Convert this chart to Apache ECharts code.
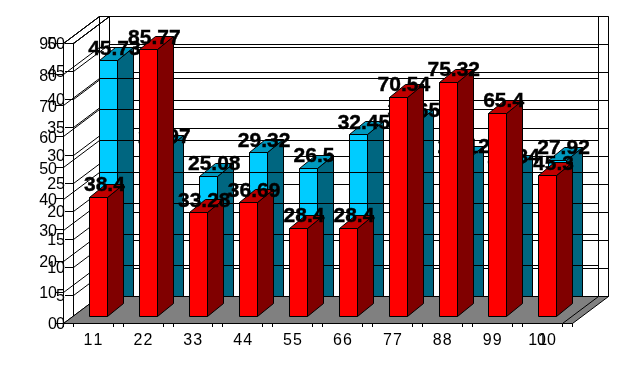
<!DOCTYPE html>
<html><head><meta charset="utf-8">
<style>html,body{margin:0;padding:0;background:#fff}#c{width:643px;height:369px}</style>
<script src="https://cdn.jsdelivr.net/npm/echarts@6/dist/echarts.min.js"></script>
</head><body><div id="c"></div>
<script>
const categories = ['1','2','3','4','5','6','7','8','9','10'];
const blueValues = [45.73,29.97,25.08,29.32,26.5,32.45,34.65,28.12,26.34,27.92];
const redValues = [38.4,85.77,33.28,36.69,28.4,28.4,70.54,75.32,65.4,45.3];
const redTicks = [0,10,20,30,40,50,60,70,80,90];
const blueTicks = [0,5,10,15,20,25,30,35,40,45,50];

const DX = 36, DY = -27;            // depth of the frame
const BDX = 16, BDY = -13;          // depth of a bar
const FONT_LABEL = 'bold 21px "Liberation Sans", Arial, sans-serif';
const s = v => Math.round(v) + 0.5;
const line = {stroke:'#000', lineWidth:1, fill:null};

function wallLines(axis, ticks) {
  return {
    type:'custom', coordinateSystem:'cartesian2d', xAxisIndex:axis, yAxisIndex:axis, clip:false, silent:true,
    z: axis === 0 ? 10 : 4,
    data: ticks.map(t => [0, t]),
    renderItem(p, api) {
      const band = api.size([1, 0])[0];
      const a = api.coord([0, api.value(1)]);
      const x0 = a[0] - band / 2, x1 = x0 + band * 10, y = a[1];
      const children = [{type:'polyline', shape:{points:[[s(x0),s(y)],[s(x0+DX),s(y+DY)],[s(x1+DX),s(y+DY)]]}, style:line}];
      if (p.dataIndex === 0 || p.dataIndex === ticks.length - 1) {
        const top = api.coord([0, ticks[ticks.length-1]])[1], bot = api.coord([0, 0])[1];
        children.push({type:'polyline', shape:{points:[[s(x0+DX),s(bot+DY)],[s(x0+DX),s(top+DY)]]}, style:line});
        children.push({type:'polyline', shape:{points:[[s(x1+DX),s(bot+DY)],[s(x1+DX),s(top+DY)]]}, style:line});
        children.push({type:'polyline', shape:{points:[[s(x0),s(top)],[s(x0+DX),s(top+DY)]]}, style:line});
      }
      return {type:'group', children};
    }
  };
}
function floor(axis) {
  return {
    type:'custom', coordinateSystem:'cartesian2d', xAxisIndex:axis, yAxisIndex:axis, clip:false, silent:true,
    z: axis === 0 ? 11 : 3,
    data:[[0,0]],
    renderItem(p, api) {
      const band = api.size([1, 0])[0];
      const a = api.coord([0, 0]);
      const x0 = a[0] - band/2, x1 = x0 + band*10, y = a[1];
      return {type:'polygon', shape:{points:[[s(x0),s(y)],[s(x0+DX),s(y+DY)],[s(x1+DX),s(y+DY)],[s(x1),s(y)]]},
        style:{fill:'#808080', stroke:'#000', lineWidth:1}};
    }
  };
}
function bars(axis, values, front, side, top) {
  return {
    type:'custom', coordinateSystem:'cartesian2d', xAxisIndex:axis, yAxisIndex:axis, clip:false, silent:true,
    z: axis === 0 ? 12 : 5,
    data: values.map((v,i) => [i, v]),
    renderItem(p, api) {
      const band = api.size([1, 0])[0];
      const t = api.coord([api.value(0), api.value(1)]);
      const b = api.coord([api.value(0), 0]);
      const l = s(t[0] + band*0.026), r = l + 18;
      const yt = s(t[1] - 7), yb = s(b[1] - 7);
      const st = {stroke:'#000', lineWidth:1};
      return {type:'group', children:[
        {type:'polygon', shape:{points:[[r,yb],[r+BDX,yb+BDY],[r+BDX,yt+BDY],[r,yt]]}, style:{...st, fill:side}},
        {type:'polygon', shape:{points:[[l,yt],[l+BDX,yt+BDY],[r+BDX,yt+BDY],[r,yt]]}, style:{...st, fill:top}},
        {type:'rect', shape:{x:l,y:yt,width:r-l,height:yb-yt}, style:{...st, fill:front}}
      ]};
    }
  };
}
function labels(axis, values) {
  return {
    type:'custom', coordinateSystem:'cartesian2d', xAxisIndex:axis, yAxisIndex:axis, clip:false, silent:true,
    z: axis === 0 ? 13 : 6,
    data: values.map((v,i) => [i, v]),
    renderItem(p, api) {
      const band = api.size([1, 0])[0];
      const t = api.coord([api.value(0), api.value(1)]);
      return {type:'text', style:{text:String(values[p.dataIndex]), x:t[0]+band*0.21+6, y:t[1]-18,
        textAlign:'center', textVerticalAlign:'middle', font:FONT_LABEL, fill:'#000', stroke:'#000', lineWidth:0.4}};
    }
  };
}
const xAxisBase = {
  type:'category', data:categories, boundaryGap:true,
  axisLine:{show:true, lineStyle:{color:'#000'}}, axisTick:{show:true, length:4, lineStyle:{color:'#000'}},
  axisLabel:{color:'#000', fontFamily:'Liberation Sans', fontSize:16, margin:10, interval:0},
  splitLine:{show:false}
};
const yAxisBase = {
  type:'value', min:0, position:'left',
  axisLine:{show:true, lineStyle:{color:'#000'}}, axisTick:{show:true, length:8, lineStyle:{color:'#000'}},
  splitLine:{show:false}
};
const chart = echarts.init(document.getElementById('c'), null, {renderer:'canvas'});
chart.setOption({
  animation:false, backgroundColor:'#fff',
  grid:[
    {left:63, top:43, width:499, height:280, containLabel:false},
    {left:73, top:43, width:499, height:280, containLabel:false}
  ],
  xAxis:[{...xAxisBase, gridIndex:0},{...xAxisBase, gridIndex:1}],
  yAxis:[
    {...yAxisBase, gridIndex:0, max:90, interval:10, axisLabel:{color:'#000', fontFamily:'Liberation Sans', fontSize:16, margin:6, verticalAlign:'top', lineHeight:4}},
    {...yAxisBase, gridIndex:1, max:50, interval:5, axisLabel:{color:'#000', fontFamily:'Liberation Sans', fontSize:16, margin:8, verticalAlign:'top', lineHeight:4}}
  ],
  series:[
    floor(1),
    wallLines(1, blueTicks),
    bars(1, blueValues, '#00CCFF', '#006680', '#0099BF'),
    labels(1, blueValues),
    wallLines(0, redTicks),
    floor(0),
    bars(0, redValues, '#FF0000', '#800000', '#BF0000'),
    labels(0, redValues)
  ]
});
</script></body></html>
